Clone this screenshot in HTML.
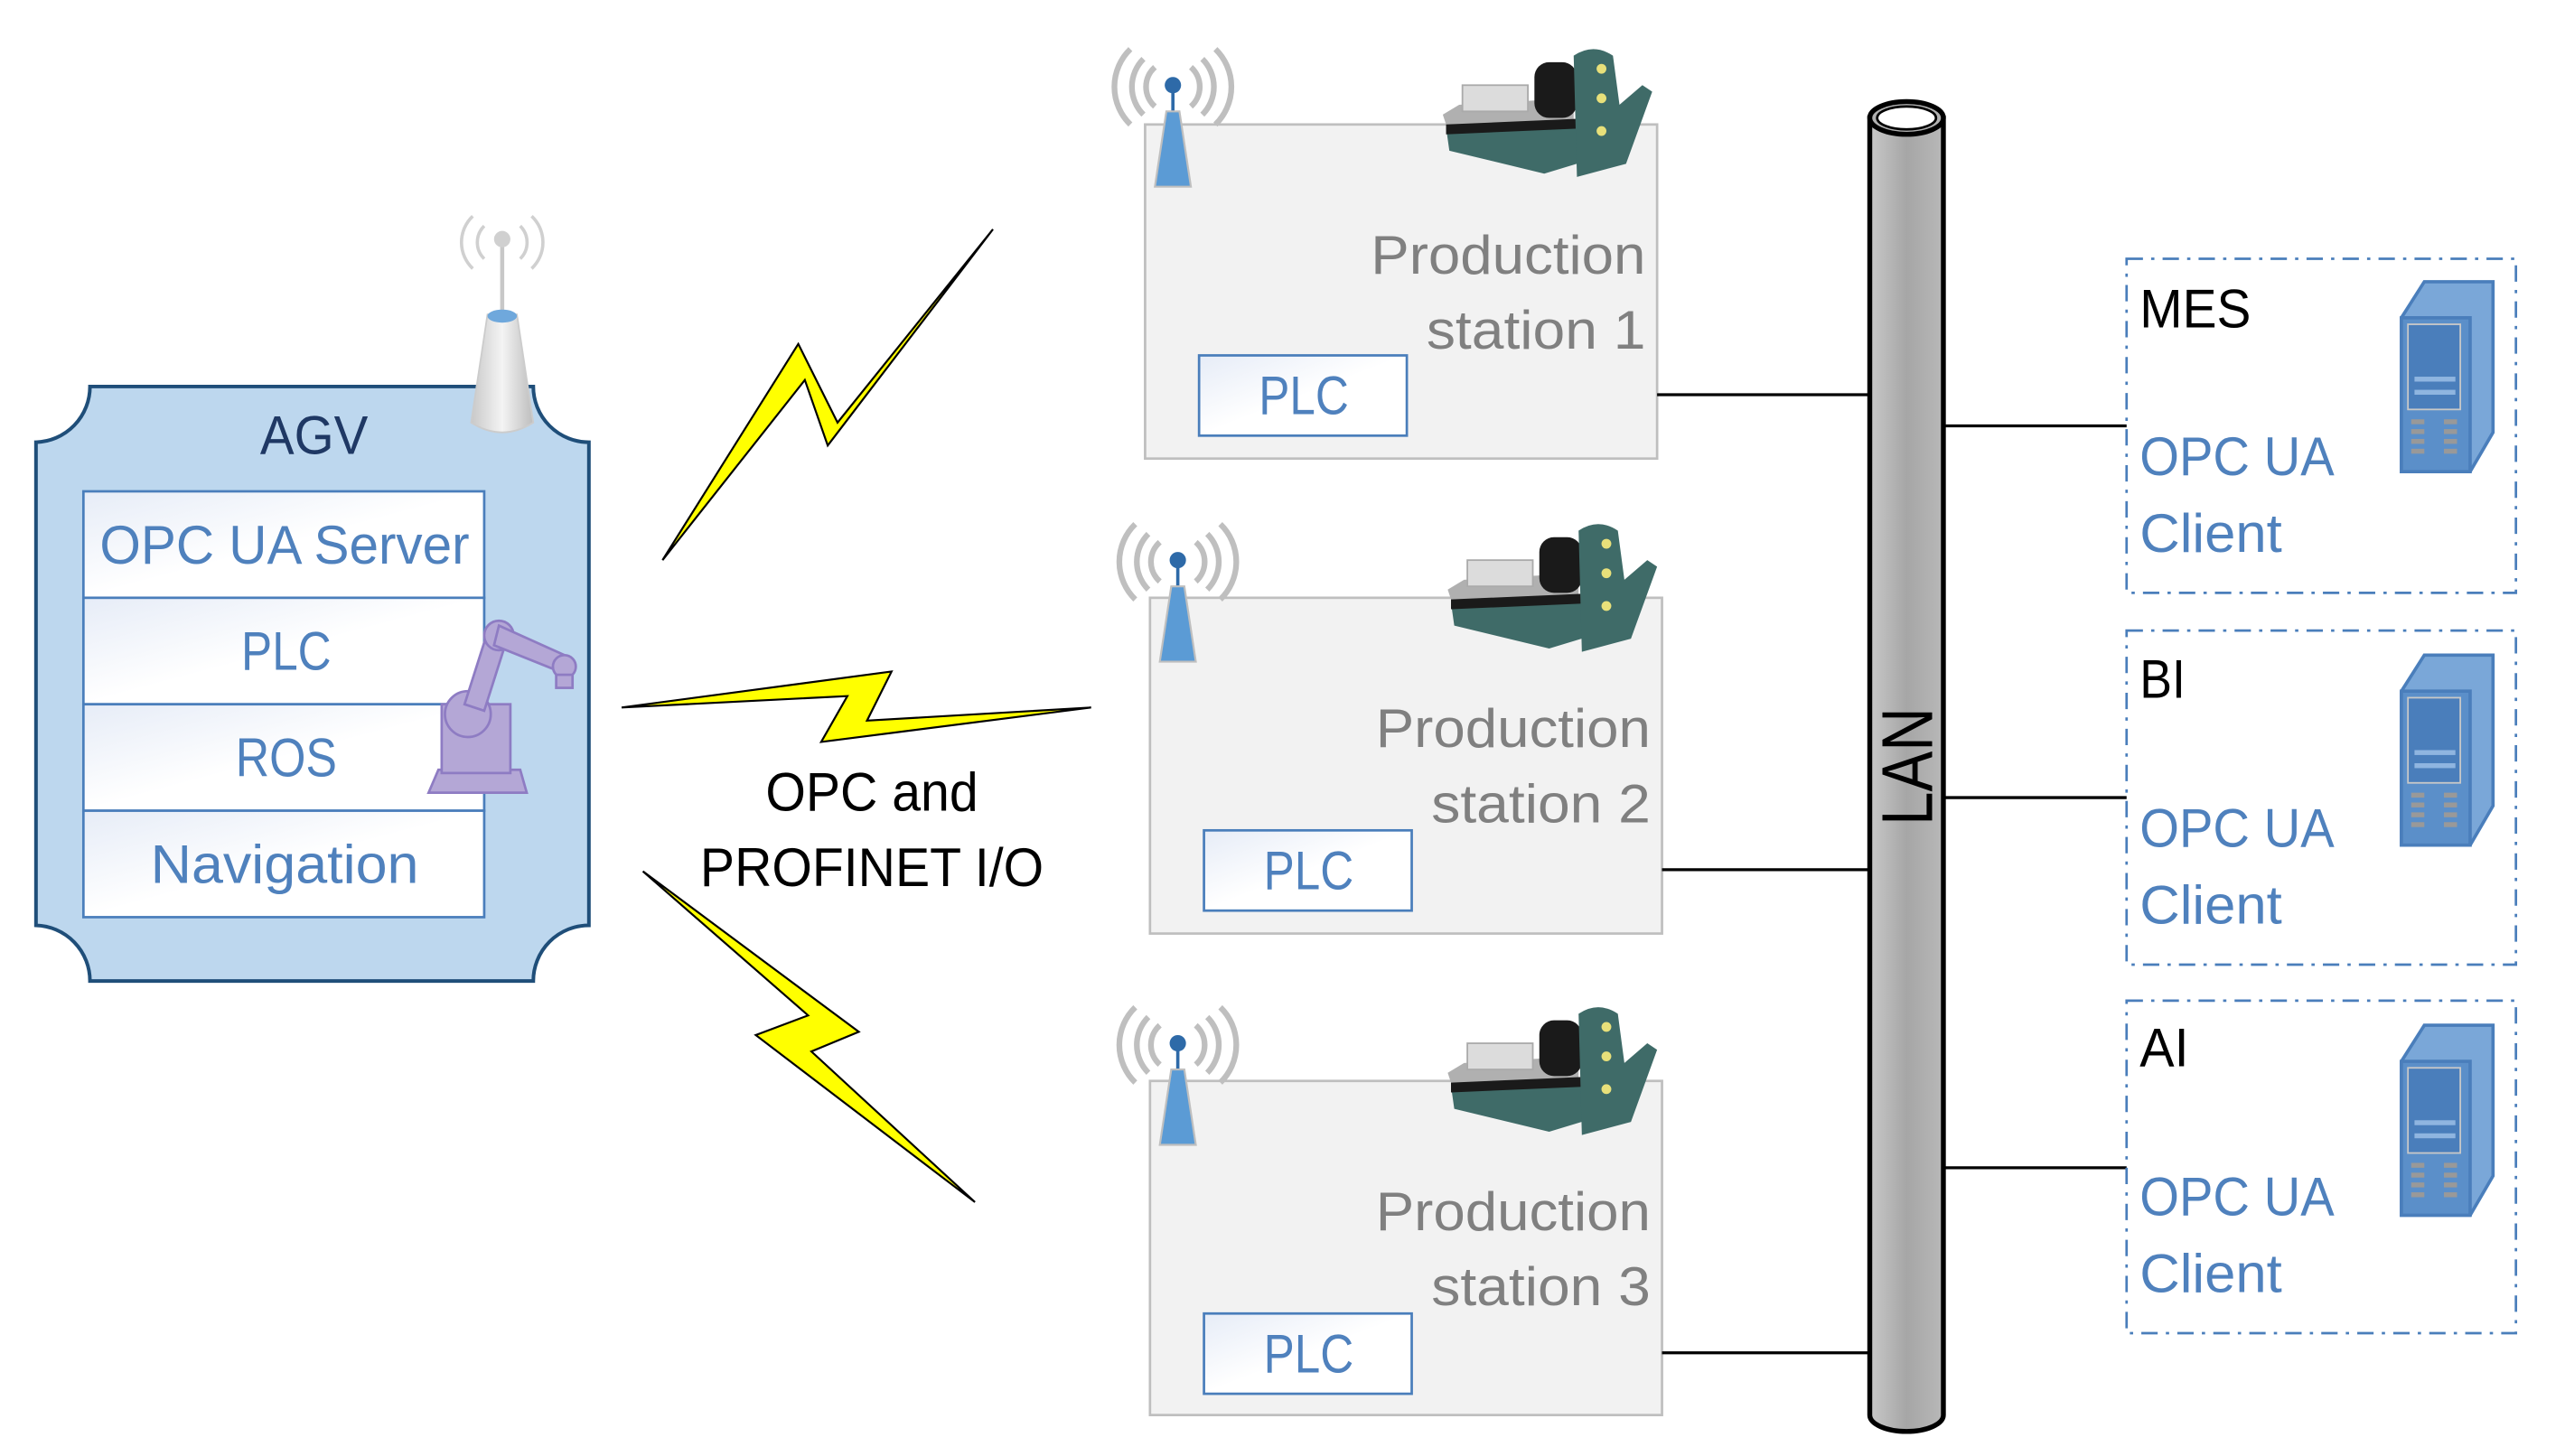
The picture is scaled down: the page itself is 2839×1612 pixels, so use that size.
<!DOCTYPE html>
<html><head><meta charset="utf-8">
<style>html,body{margin:0;padding:0;background:#fff;}svg{display:block}</style>
</head><body>
<svg width="2839" height="1612" viewBox="0 0 1568 889" preserveAspectRatio="none" xmlns="http://www.w3.org/2000/svg" font-family="'Liberation Sans', sans-serif">
<defs>
<linearGradient id="wg" x1="0" y1="0" x2="1" y2="1"><stop offset="0" stop-color="#e6ecf7"/><stop offset="0.5" stop-color="#fff"/><stop offset="1" stop-color="#fff"/></linearGradient>
<linearGradient id="cyl" x1="0" x2="1"><stop offset="0" stop-color="#c8c8c8"/><stop offset="0.5" stop-color="#a6a6a6"/><stop offset="1" stop-color="#b8b8b8"/></linearGradient>
<linearGradient id="cone" x1="0" x2="1"><stop offset="0" stop-color="#c8c8c8"/><stop offset="0.5" stop-color="#f4f4f4"/><stop offset="1" stop-color="#bdbdbd"/></linearGradient>
<g id="tower">
 <path d="M-18,-40 a24,24 0 0 0 0,34 M18,-40 a24,24 0 0 1 0,34 M-11,-35 a16,16 0 0 0 0,24 M11,-35 a16,16 0 0 1 0,24 M-26,-46 a32,32 0 0 0 0,46 M26,-46 a32,32 0 0 1 0,46" fill="none" stroke="#bfbfbf" stroke-width="3.5"/>
 <line x1="0" y1="-22" x2="0" y2="-8" stroke="#2e6aa8" stroke-width="2"/>
 <circle cx="0" cy="-24" r="5" fill="#2e6aa8"/>
 <polygon points="-4,-8 4,-8 11,38 -11,38" fill="#5b9bd5" stroke="#bfbfbf" stroke-width="1.2"/>
</g>
<g id="machine">
 <polygon points="0,40 10,34 80,30 80,60 62,72 6,58" fill="#b0b0b0"/>
 <rect x="12" y="22" width="40" height="16" fill="#dcdcdc" stroke="#aaa"/>
 <polygon points="2,48 95,44 95,66 62,76 4,62" fill="#3f6b68"/>
 <polygon points="2,46 95,42 95,48 2,52" fill="#1a1a1a"/>
 <rect x="56" y="8" width="26" height="34" rx="9" fill="#1a1a1a"/>
 <path d="M80,4 q12,-8 24,0 l4,30 l14,-12 l6,4 l-16,44 l-30,8 z" fill="#3f6b68"/>
 <circle cx="97" cy="12" r="3" fill="#e8e07a"/><circle cx="97" cy="30" r="3" fill="#e8e07a"/><circle cx="97" cy="50" r="3" fill="#e8e07a"/>
</g>
<g id="server">
 <polygon points="0,26 14,4 56,4 56,96 42,120 0,120" fill="#7aa7d8" stroke="#4a7ebb" stroke-width="2"/>
 <polygon points="0,26 42,26 42,120 0,120" fill="#5b8fc9" stroke="#4a7ebb" stroke-width="2"/>
 <rect x="4" y="30" width="32" height="52" fill="#4a7ebb" stroke="#c8c8c8" stroke-width="1"/>
 <rect x="8" y="62" width="25" height="3" fill="#8fb5e0"/><rect x="8" y="70" width="25" height="3" fill="#8fb5e0"/>
 <g fill="#999"><rect x="6" y="88" width="8" height="3"/><rect x="6" y="94" width="8" height="3"/><rect x="6" y="100" width="8" height="3"/><rect x="6" y="106" width="8" height="3"/><rect x="26" y="88" width="8" height="3"/><rect x="26" y="94" width="8" height="3"/><rect x="26" y="100" width="8" height="3"/><rect x="26" y="106" width="8" height="3"/></g>
</g>
</defs>

<!-- AGV -->
<path d="M55,236 L326,236 A34,34 0 0 0 360,270 L360,565 A34,34 0 0 0 326,599 L55,599 A34,34 0 0 0 22,565 L22,270 A34,34 0 0 0 55,236 Z" fill="#bdd7ee" stroke="#1f4e79" stroke-width="2.2"/>
<text x="192" y="277" font-size="33" fill="#1f3864" text-anchor="middle" textLength="66" lengthAdjust="spacingAndGlyphs">AGV</text>
<g stroke="#4a7ebb" stroke-width="1.5" fill="url(#wg)">
<rect x="51" y="300" width="245" height="65"/><rect x="51" y="365" width="245" height="65"/><rect x="51" y="430" width="245" height="65"/><rect x="51" y="495" width="245" height="65"/>
</g>
<g font-size="33" fill="#4f81bd" text-anchor="middle">
<text x="174" y="344" textLength="226" lengthAdjust="spacingAndGlyphs">OPC UA Server</text>
<text x="175" y="409" textLength="55" lengthAdjust="spacingAndGlyphs">PLC</text>
<text x="175" y="474" textLength="62" lengthAdjust="spacingAndGlyphs">ROS</text>
<text x="174" y="539" textLength="164" lengthAdjust="spacingAndGlyphs">Navigation</text>
</g>
<!-- robot arm -->
<g fill="#b4a7d6" stroke="#8e7cc3" stroke-width="1.5">
<polygon points="262,484 268,470 318,470 322,484"/>
<rect x="270" y="430" width="42" height="42"/>
<circle cx="286" cy="436" r="14"/>
<polygon points="284,430 298,386 310,390 296,434"/>
<circle cx="305" cy="388" r="9"/>
<polygon points="305,382 345,400 342,410 302,394"/>
<circle cx="345" cy="407" r="7"/>
<rect x="340" y="412" width="10" height="8"/>
</g>
<!-- AGV antenna -->
<path d="M296,138 a14,14 0 0 0 0,20 M318,138 a14,14 0 0 1 0,20 M289,132 a22,22 0 0 0 0,32 M325,132 a22,22 0 0 1 0,32" fill="none" stroke="#d0d0d0" stroke-width="2"/>
<line x1="307" y1="146" x2="307" y2="192" stroke="#c8c8c8" stroke-width="2.5"/>
<circle cx="307" cy="146" r="5" fill="#d0d0d0"/>
<path d="M298,192 L316,192 L326,258 Q307,270 288,258 Z" fill="url(#cone)" stroke="#ccc"/>
<ellipse cx="307" cy="193" rx="9" ry="4" fill="#6fa8dc"/>

<!-- bolts -->
<g fill="#ffff00" stroke="#000" stroke-width="1.2" stroke-linejoin="miter">
<polygon points="405,342 488,210 512,258 607,140 506,272 492,232"/>
<polygon points="380,432 545,410 530,440 667,432 502,453 518,425"/>
<polygon points="393,532 525,630 496,642 596,734 462,632 494,620"/>
</g>
<g font-size="33" fill="#000" text-anchor="middle">
<text x="533" y="495" textLength="130" lengthAdjust="spacingAndGlyphs">OPC and</text>
<text x="533" y="541" textLength="210" lengthAdjust="spacingAndGlyphs">PROFINET I/O</text>
</g>

<!-- stations -->
<g>
<rect x="700" y="76" width="313" height="204" fill="#f2f2f2" stroke="#bfbfbf" stroke-width="1.5"/>
<rect x="733" y="217" width="127" height="49" fill="url(#wg)" stroke="#4a7ebb" stroke-width="1.5"/>
<text x="797" y="253" font-size="33" fill="#4f81bd" text-anchor="middle" textLength="55" lengthAdjust="spacingAndGlyphs">PLC</text>
<text x="1006" y="167" font-size="33" fill="#808080" text-anchor="end" textLength="168" lengthAdjust="spacingAndGlyphs">Production</text>
<text x="1006" y="213" font-size="33" fill="#808080" text-anchor="end" textLength="134" lengthAdjust="spacingAndGlyphs">station 1</text>
<use href="#tower" x="717" y="76"/>
<use href="#machine" x="882" y="30"/>
</g>
<g>
<rect x="703" y="365" width="313" height="205" fill="#f2f2f2" stroke="#bfbfbf" stroke-width="1.5"/>
<rect x="736" y="507" width="127" height="49" fill="url(#wg)" stroke="#4a7ebb" stroke-width="1.5"/>
<text x="800" y="543" font-size="33" fill="#4f81bd" text-anchor="middle" textLength="55" lengthAdjust="spacingAndGlyphs">PLC</text>
<text x="1009" y="456" font-size="33" fill="#808080" text-anchor="end" textLength="168" lengthAdjust="spacingAndGlyphs">Production</text>
<text x="1009" y="502" font-size="33" fill="#808080" text-anchor="end" textLength="134" lengthAdjust="spacingAndGlyphs">station 2</text>
<use href="#tower" x="720" y="366"/>
<use href="#machine" x="885" y="320"/>
</g>
<g>
<rect x="703" y="660" width="313" height="204" fill="#f2f2f2" stroke="#bfbfbf" stroke-width="1.5"/>
<rect x="736" y="802" width="127" height="49" fill="url(#wg)" stroke="#4a7ebb" stroke-width="1.5"/>
<text x="800" y="838" font-size="33" fill="#4f81bd" text-anchor="middle" textLength="55" lengthAdjust="spacingAndGlyphs">PLC</text>
<text x="1009" y="751" font-size="33" fill="#808080" text-anchor="end" textLength="168" lengthAdjust="spacingAndGlyphs">Production</text>
<text x="1009" y="797" font-size="33" fill="#808080" text-anchor="end" textLength="134" lengthAdjust="spacingAndGlyphs">station 3</text>
<use href="#tower" x="720" y="661"/>
<use href="#machine" x="885" y="615"/>
</g>

<!-- connectors -->
<g stroke="#000" stroke-width="1.8">
<line x1="1013" y1="241" x2="1143" y2="241"/>
<line x1="1016" y1="531" x2="1143" y2="531"/>
<line x1="1016" y1="826" x2="1143" y2="826"/>
<line x1="1188" y1="260" x2="1300" y2="260"/>
<line x1="1188" y1="487" x2="1300" y2="487"/>
<line x1="1188" y1="713" x2="1300" y2="713"/>
</g>

<!-- LAN -->
<path d="M1143,72 L1143,864 A22.5,10 0 0 0 1188,864 L1188,72 Z" fill="url(#cyl)" stroke="#000" stroke-width="3"/>
<ellipse cx="1165.5" cy="72" rx="22.5" ry="10" fill="#b0b0b0" stroke="#000" stroke-width="3"/>
<ellipse cx="1165.5" cy="72" rx="18" ry="7" fill="#fff" stroke="#000" stroke-width="1.5"/>
<text x="0" y="0" transform="translate(1181,468) rotate(-90)" font-size="44" fill="#000" text-anchor="middle" textLength="72" lengthAdjust="spacingAndGlyphs">LAN</text>

<!-- right boxes -->
<g fill="none" stroke="#4a7ebb" stroke-width="1.5" stroke-dasharray="10,5,2,5">
<rect x="1300" y="158" width="238" height="204"/>
<rect x="1300" y="385" width="238" height="204"/>
<rect x="1300" y="611" width="238" height="203"/>
</g>
<g font-size="33">
<text x="1308" y="200" fill="#000" textLength="68" lengthAdjust="spacingAndGlyphs">MES</text>
<text x="1308" y="290" fill="#4f81bd" textLength="119" lengthAdjust="spacingAndGlyphs">OPC UA</text>
<text x="1308" y="337" fill="#4f81bd" textLength="87" lengthAdjust="spacingAndGlyphs">Client</text>
<text x="1308" y="426" fill="#000" textLength="28" lengthAdjust="spacingAndGlyphs">BI</text>
<text x="1308" y="517" fill="#4f81bd" textLength="119" lengthAdjust="spacingAndGlyphs">OPC UA</text>
<text x="1308" y="564" fill="#4f81bd" textLength="87" lengthAdjust="spacingAndGlyphs">Client</text>
<text x="1308" y="651" fill="#000" textLength="30" lengthAdjust="spacingAndGlyphs">AI</text>
<text x="1308" y="742" fill="#4f81bd" textLength="119" lengthAdjust="spacingAndGlyphs">OPC UA</text>
<text x="1308" y="789" fill="#4f81bd" textLength="87" lengthAdjust="spacingAndGlyphs">Client</text>
</g>
<use href="#server" x="1468" y="168"/>
<use href="#server" x="1468" y="396"/>
<use href="#server" x="1468" y="622"/>
</svg>
</body></html>
